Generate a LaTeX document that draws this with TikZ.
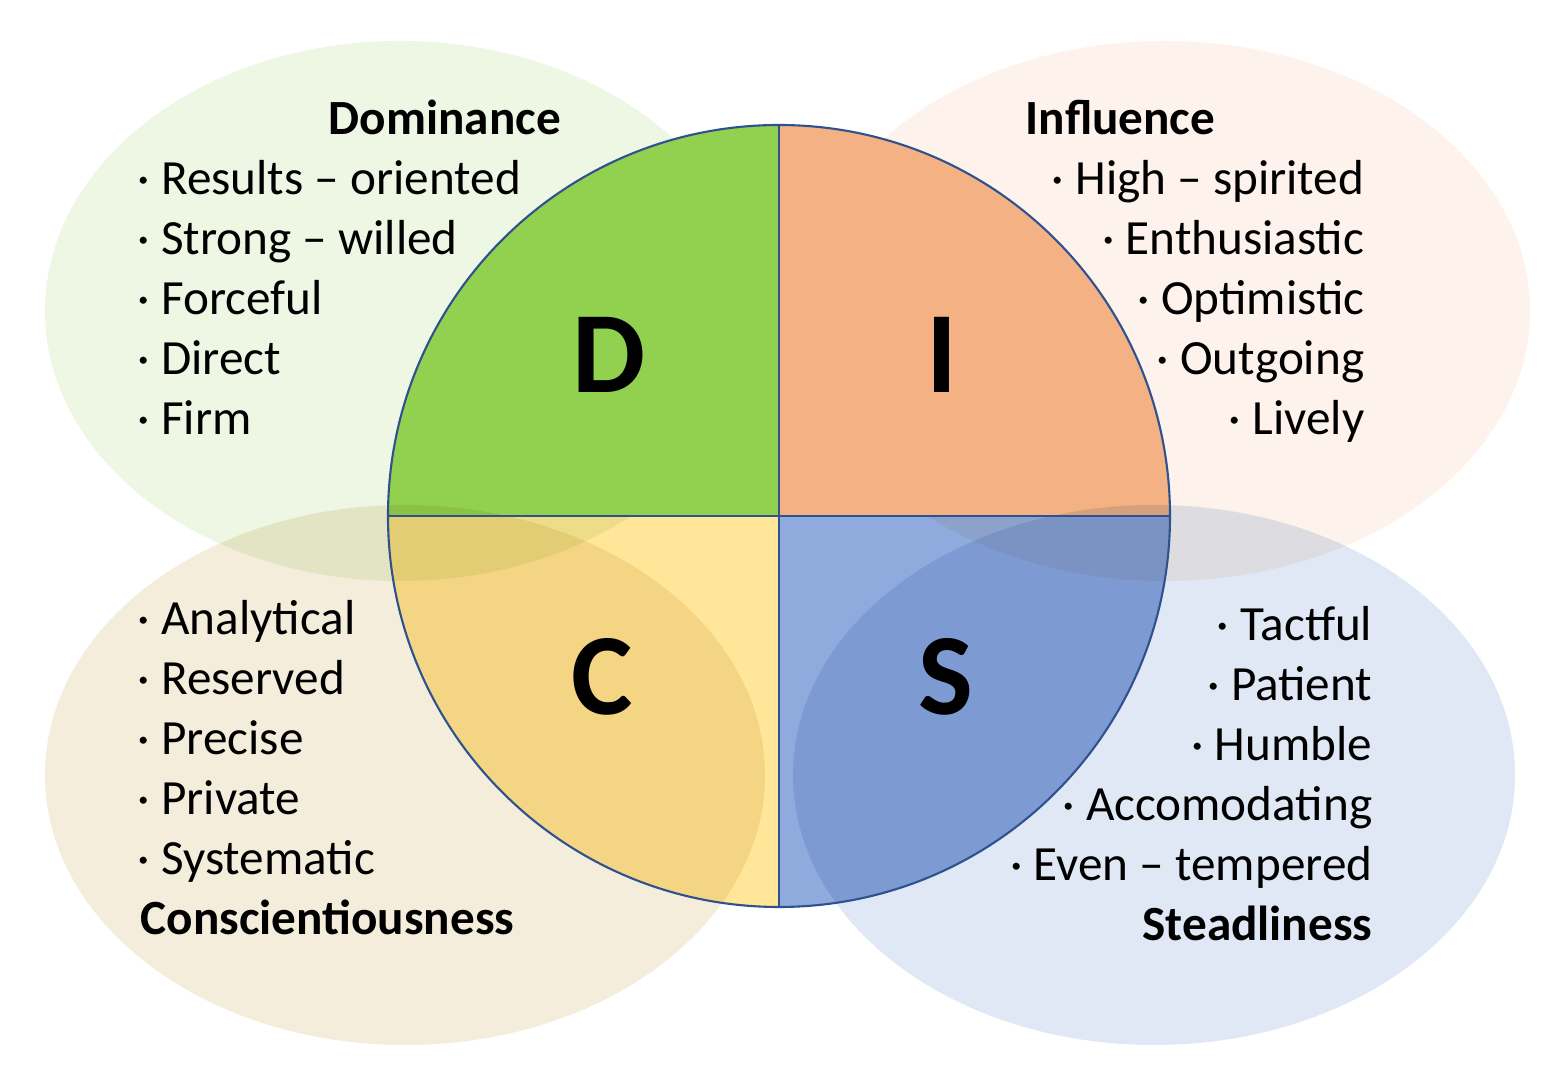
\documentclass[tikz,border=0pt]{standalone}
\usepackage{fontspec}
\setmainfont{Carlito}
\usepackage{tikz}
\usetikzlibrary{positioning}

\definecolor{dgreen}{HTML}{92D050}
\definecolor{ipeach}{HTML}{F4B183}
\definecolor{cyellow}{HTML}{FFE699}
\definecolor{sblue}{HTML}{8FAADC}
\definecolor{dhalo}{HTML}{EEF6E4}
\definecolor{ihalo}{HTML}{FDF3EC}
\definecolor{chalo}{HTML}{F4EDDB}
\definecolor{shalo}{HTML}{DFE8F4}
\definecolor{rim}{HTML}{2F528F}

\begin{document}
\begin{tikzpicture}[
    halo/.style={blend mode=multiply},
    quad/.style={draw=none},
    trait/.style={font=\fontsize{14}{17}\selectfont, inner sep=0pt, text=black},
    head/.style={font=\fontsize{14}{17}\selectfont\bfseries, inner sep=0pt, text=black},
    letter/.style={font=\fontsize{33}{40}\selectfont\bfseries, inner sep=0pt, text=black, anchor=base}
]
\useasboundingbox (0,0) rectangle (15.64,10.91);
\fill[white] (0,0) rectangle (15.64,10.91);

\coordinate (ctr) at (7.79,5.75);

% Lower quadrants (C and S), under the upper halos
\fill[quad, cyellow] (ctr) -- ++(-3.91,0) arc[start angle=180, end angle=270, radius=3.91] -- cycle;
\fill[quad, sblue] (ctr) -- ++(0,-3.91) arc[start angle=270, end angle=360, radius=3.91] -- cycle;

% Upper halos
\fill[halo, dhalo] (4.00,7.80) ellipse[x radius=3.55, y radius=2.70];
\fill[halo, ihalo] (11.65,7.80) ellipse[x radius=3.65, y radius=2.70];

% Upper quadrants (D and I)
\fill[quad, dgreen] (ctr) -- ++(-3.91,0) arc[start angle=180, end angle=90, radius=3.91] -- cycle;
\fill[quad, ipeach] (ctr) -- ++(0,3.91) arc[start angle=90, end angle=0, radius=3.91] -- cycle;

% Lower halos
\fill[halo, chalo] (4.05,3.16) ellipse[x radius=3.60, y radius=2.70];
\fill[halo, shalo] (11.54,3.16) ellipse[x radius=3.61, y radius=2.70];

% Circle outline and dividing lines
\draw[rim, line width=0.6pt] (ctr) circle[radius=3.91];
\draw[rim, line width=0.6pt] (3.88,5.75) -- (11.70,5.75);
\draw[rim, line width=0.6pt] (7.79,1.84) -- (7.79,9.66);

% Big letters
\node[letter] (D) at (6.09,6.98) {D};
\node[letter] (I) at (9.42,6.98) {I};
\node[letter] (C) at (6.02,3.76) {C};
\node[letter] (S) at (9.46,3.76) {S};

% Dominance
\node[head, anchor=base west] (dom) at (3.28,9.56) {Dominance};
\node[trait, anchor=base west] (d1) at (1.37,8.96) {· Results – oriented};
\node[trait, anchor=base west] (d2) at (1.37,8.36) {· Strong – willed};
\node[trait, anchor=base west] (d3) at (1.37,7.76) {· Forceful};
\node[trait, anchor=base west] (d4) at (1.37,7.16) {· Direct};
\node[trait, anchor=base west] (d5) at (1.37,6.56) {· Firm};

% Influence
\node[head, anchor=base west] (inf) at (10.25,9.56) {Influence};
\node[trait, anchor=base east] (i1) at (13.65,8.96) {· High – spirited};
\node[trait, anchor=base east] (i2) at (13.65,8.36) {· Enthusiastic};
\node[trait, anchor=base east] (i3) at (13.65,7.76) {· Optimistic};
\node[trait, anchor=base east] (i4) at (13.65,7.16) {· Outgoing};
\node[trait, anchor=base east] (i5) at (13.65,6.56) {· Lively};

% Conscientiousness
\node[trait, anchor=base west] (c1) at (1.37,4.56) {· Analytical};
\node[trait, anchor=base west] (c2) at (1.37,3.96) {· Reserved};
\node[trait, anchor=base west] (c3) at (1.37,3.36) {· Precise};
\node[trait, anchor=base west] (c4) at (1.37,2.76) {· Private};
\node[trait, anchor=base west] (c5) at (1.37,2.16) {· Systematic};
\node[head, anchor=base west] (con) at (1.40,1.56) {Conscientiousness};

% Steadliness
\node[trait, anchor=base east] (s1) at (13.73,4.50) {· Tactful};
\node[trait, anchor=base east] (s2) at (13.73,3.90) {· Patient};
\node[trait, anchor=base east] (s3) at (13.73,3.30) {· Humble};
\node[trait, anchor=base east] (s4) at (13.73,2.70) {· Accomodating};
\node[trait, anchor=base east] (s5) at (13.73,2.10) {· Even – tempered};
\node[head, anchor=base east] (std) at (13.73,1.50) {Steadliness};

\end{tikzpicture}
\end{document}
